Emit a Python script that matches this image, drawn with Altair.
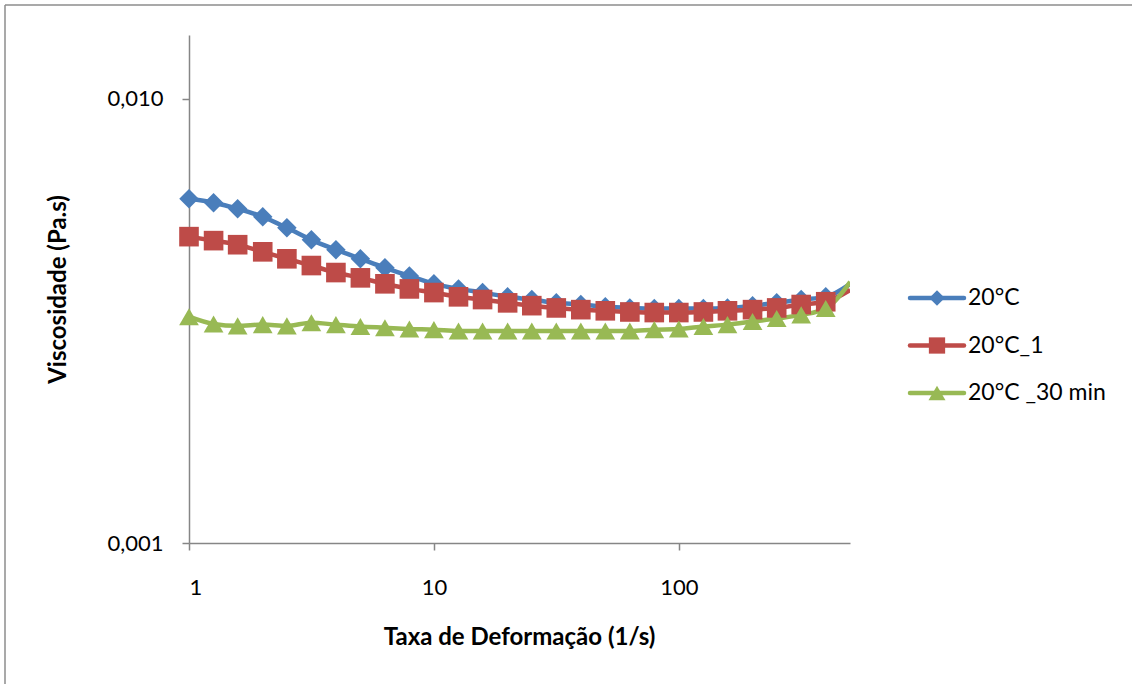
import altair as alt
import pandas as pd

# ---- data ----
taxa = [1, 1.26, 1.58, 2, 2.51, 3.16, 3.98, 5.01, 6.31, 7.94,
        10, 12.6, 15.8, 20, 25.1, 31.6, 39.8, 50.1, 63.1, 79.4,
        100, 126, 158, 200, 251, 316, 398, 501]

visc_20 = [0.00595, 0.00583, 0.00565, 0.00542, 0.00512, 0.00481, 0.00457, 0.00436, 0.00416, 0.00399,
           0.00383, 0.00373, 0.00366, 0.00358, 0.00353, 0.00347, 0.00344, 0.00340, 0.00338, 0.00337,
           0.00337, 0.00337, 0.00338, 0.00342, 0.00347, 0.00353, 0.00358, 0.00383]

visc_20_1 = [0.00489, 0.00479, 0.00469, 0.00452, 0.00436, 0.00421, 0.00406, 0.00395, 0.00383, 0.00373,
             0.00366, 0.00358, 0.00353, 0.00347, 0.00342, 0.00338, 0.00335, 0.00333, 0.00331, 0.00330,
             0.00330, 0.00331, 0.00333, 0.00335, 0.00338, 0.00344, 0.00349, 0.00371]

visc_20_30 = [0.00323, 0.00311, 0.00308, 0.00310, 0.00308, 0.00313, 0.00310, 0.00307, 0.00305, 0.00303,
              0.00302, 0.00300, 0.00300, 0.00300, 0.00300, 0.00300, 0.00300, 0.00300, 0.00300, 0.00302,
              0.00303, 0.00307, 0.00310, 0.00315, 0.00320, 0.00326, 0.00337, 0.00387]

series = ["20°C", "20°C_1", "20°C _30 min"]
colors = ["#4A7EBB", "#BE4B48", "#98B954"]
shapes = ["diamond", "square", "triangle-up"]
marker_sizes = [380, 390, 520]
legend_marker_sizes = [240, 290, 370]

x_ticks = [1, 10, 100]
y_ticks = [0.001, 0.01]
x_domain = [1, 500]
y_domain = [0.001, 0.0139]

x_title = "Taxa de Deformação (1/s)"
y_title = "Viscosidade (Pa.s)"

rows = []
for name, vals in zip(series, [visc_20, visc_20_1, visc_20_30]):
    for t, v in zip(taxa, vals):
        rows.append({"taxa": t, "visc": v, "serie": name})
df = pd.DataFrame(rows)

legend_df = pd.DataFrame({"serie": series, "row": [0, 1, 2]})
dummy = pd.DataFrame({"a": [0]})

FONT = "Lato"
AXIS_COLOR = "#868686"

color_enc = alt.Color("serie:N", scale=alt.Scale(domain=series, range=colors), legend=None)
shape_enc = alt.Shape("serie:N", scale=alt.Scale(domain=series, range=shapes), legend=None)

x_axis = alt.Axis(
    values=x_ticks, format="d", title=x_title, grid=False,
    domainColor=AXIS_COLOR, domainWidth=1.5, tickColor=AXIS_COLOR, tickWidth=1.5,
    tickSize=7, labelPadding=27, labelFont=FONT, labelFontSize=22, labelColor="#000",
    titleFont=FONT, titleFontSize=24, titleFontWeight="bold", titleColor="#000",
    titleX=330, titleY=94, titleBaseline="middle",
)
y_axis = alt.Axis(
    values=y_ticks, labelExpr="replace(format(datum.value, '.3f'), '.', ',')",
    title=y_title, grid=False,
    domainColor=AXIS_COLOR, domainWidth=1.5, tickColor=AXIS_COLOR, tickWidth=1.5,
    tickSize=7, labelPadding=19, labelFont=FONT, labelFontSize=22, labelColor="#000",
    titleFont=FONT, titleFontSize=24, titleFontWeight="bold", titleColor="#000",
    titleX=-131, titleY=254, titleBaseline="middle", titleAlign="center", titleAngle=-90,
)
x_enc = alt.X("taxa:Q", scale=alt.Scale(type="log", domain=x_domain), axis=x_axis)
y_enc = alt.Y("visc:Q", scale=alt.Scale(type="log", domain=y_domain), axis=y_axis)

lines = alt.Chart(df).mark_line(strokeWidth=4.5, interpolate="monotone", clip=True).encode(
    x=x_enc, y=y_enc, color=color_enc, detail="serie:N"
)
points = alt.Chart(df).transform_filter(alt.datum.taxa <= 500).mark_point(
    filled=True, opacity=1
).encode(
    x=x_enc, y=y_enc, color=color_enc, shape=shape_enc,
    size=alt.Size("serie:N", scale=alt.Scale(domain=series, range=marker_sizes), legend=None),
)
main = alt.layer(lines, points)

ly = alt.Y("row:Q", scale=alt.Scale(domain=[0, 2], range=[263, 358]), axis=None)
leg_rule = alt.Chart(legend_df).mark_rule(strokeWidth=4.5, strokeCap="round").encode(
    x=alt.value(721), x2=alt.value(775), y=ly, color=color_enc
)
leg_pt = alt.Chart(legend_df).mark_point(filled=True, opacity=1).encode(
    x=alt.value(748), y=ly, color=color_enc, shape=shape_enc,
    size=alt.Size("serie:N", scale=alt.Scale(domain=series, range=legend_marker_sizes), legend=None),
)
leg_txt = alt.Chart(legend_df).mark_text(
    align="left", baseline="middle", font=FONT, fontSize=23, color="#000"
).encode(x=alt.value(779), y=ly, text="serie:N")
legend = alt.layer(leg_rule, leg_pt, leg_txt)

border_top = alt.Chart(dummy).mark_rule(color="#8c8c8c", strokeWidth=1.5).encode(
    x=alt.value(-184), x2=alt.value(960), y=alt.value(-30)
)
border_left = alt.Chart(dummy).mark_rule(color="#8c8c8c", strokeWidth=1.5).encode(
    x=alt.value(-184), y=alt.value(-30), y2=alt.value(700)
)
border = alt.layer(border_top, border_left)

chart = alt.layer(border, main, legend).resolve_scale(y="independent", size="independent").properties(
    width=661, height=508,
    autosize=alt.AutoSizeParams(type="none"),
    padding={"left": 189, "top": 35, "right": 282, "bottom": 141},
    background="white",
).configure_view(stroke=None)

chart.save("out.html", embed_options={"renderer": "svg", "actions": False})
